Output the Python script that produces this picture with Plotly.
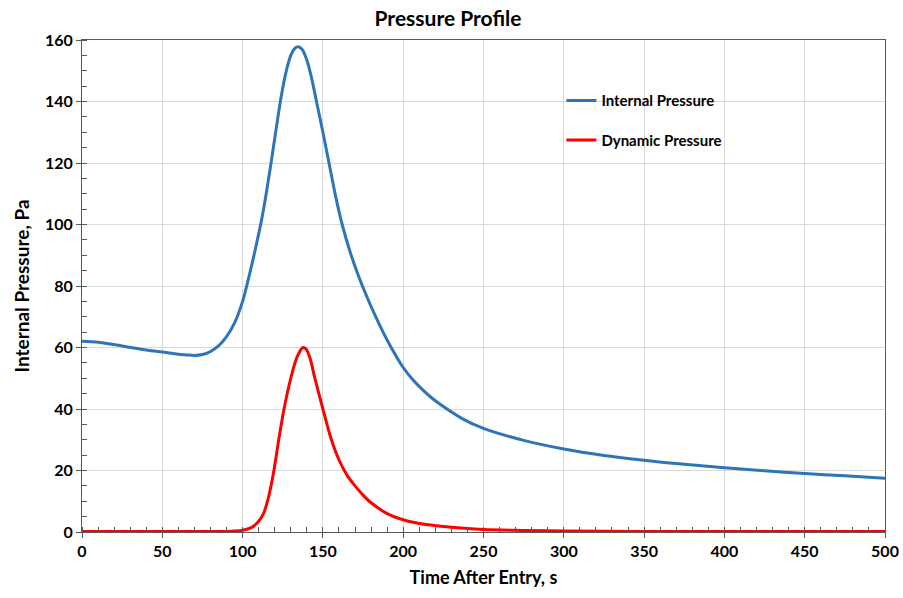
import plotly.graph_objects as go

# Data
time_internal = [0, 10, 25, 40, 50, 60, 65, 70, 75, 80, 85, 90, 95, 100, 103, 106, 109, 112, 115, 118, 121, 124, 127, 130, 132.5, 134.5, 137, 140, 143, 146, 150, 154, 158, 162, 167, 172, 177, 182, 187, 192, 200, 206, 212, 218, 225, 237, 250, 275, 300, 325, 350, 375, 400, 425, 450, 475, 500]
internal_pressure = [62, 61.7, 60.5, 59.2, 58.5, 57.8, 57.6, 57.4, 57.7, 58.7, 60.5, 63.5, 68, 75, 81, 87.5, 94.5, 102, 111, 121, 131.5, 141.5, 149.5, 155, 157.3, 157.8, 157, 153.5, 147.5, 140, 130, 119.5, 109, 100, 91, 83.5, 77, 71, 65.5, 60.5, 53.5, 49.5, 46.3, 43.5, 40.8, 36.8, 33.7, 29.8, 27, 24.9, 23.3, 22, 20.9, 19.9, 19, 18.3, 17.5]

time_dynamic = [0, 50, 90, 95, 100, 106, 110, 113, 116, 119.5, 122.5, 125.8, 130, 134, 137.6, 139.5, 142, 145, 150, 155, 160, 165, 170, 175, 180, 190, 200, 212, 225, 250, 275, 300, 350, 400, 500]
dynamic_pressure = [0.2, 0.2, 0.2, 0.3, 0.6, 1.6, 3.5, 6, 11, 20, 30, 40, 50, 57, 60, 59.5, 56.5, 50, 40, 30.5, 23.5, 18.5, 15, 12, 9.5, 6, 4, 2.6, 1.8, 0.8, 0.5, 0.3, 0.2, 0.2, 0.2]

x_ticks = [0, 50, 100, 150, 200, 250, 300, 350, 400, 450, 500]
y_ticks = [0, 20, 40, 60, 80, 100, 120, 140, 160]

FONT = "Lato"
W, H = 903, 598

fig = go.Figure()
fig.add_trace(go.Scatter(
    x=time_internal, y=internal_pressure, mode="lines",
    name="<b>Internal Pressure</b>", legendgroup="a",
    line=dict(color="#2E75B6", width=3, shape="spline", smoothing=0.8),
))
fig.add_trace(go.Scatter(
    x=time_dynamic, y=dynamic_pressure, mode="lines",
    name="<b>Dynamic Pressure</b>", legendgroup="b",
    line=dict(color="#FF0000", width=3, shape="spline", smoothing=0.8),
))

axis_common = dict(
    showline=True, linecolor="#595959", linewidth=1, mirror=True,
    showgrid=True, gridcolor="#D9D9D9", gridwidth=1,
    zeroline=False, ticks="outside", ticklen=5, tickcolor="#595959",
    tickfont=dict(family=FONT, size=16, color="black", weight="bold"),
    automargin=False,
)

fig.update_layout(
    width=W, height=H,
    paper_bgcolor="white", plot_bgcolor="white",
    margin=dict(l=82, r=18, t=40, b=66, autoexpand=False),
    title=dict(text="<b>Pressure Profile</b>", x=448 / W, xanchor="center", xref="container",
               y=1 - 19 / H, yref="container", yanchor="middle", automargin=False,
               font=dict(family=FONT, size=21, color="black")),
    xaxis=dict(range=[0, 500], tickvals=x_ticks,
               title=dict(text="<b>Time After Entry, s</b>", font=dict(family=FONT, size=18, color="black"), standoff=12),
               minor=dict(dtick=10, ticks="inside", ticklen=5, tickcolor="#595959", showgrid=False),
               **axis_common),
    yaxis=dict(range=[0, 160], tickvals=y_ticks,
               title=dict(text="<b>Internal Pressure, Pa</b>", font=dict(family=FONT, size=19, color="black"), standoff=10),
               minor=dict(dtick=5, ticks="inside", ticklen=5, tickcolor="#595959", showgrid=False),
               **axis_common),
    legend=dict(x=0.597, y=0.91, xanchor="left", yanchor="top",
                bgcolor="rgba(0,0,0,0)", itemwidth=30, tracegroupgap=17,
                traceorder="grouped",
                font=dict(family=FONT, size=15, color="black")),
    showlegend=True,
)

fig.write_html(
    "out.html",
    config={"displayModeBar": False},
    post_script="document.body.style.margin='0';"
                "document.body.style.overflow='hidden';"
                "document.documentElement.style.overflow='hidden';",
)
